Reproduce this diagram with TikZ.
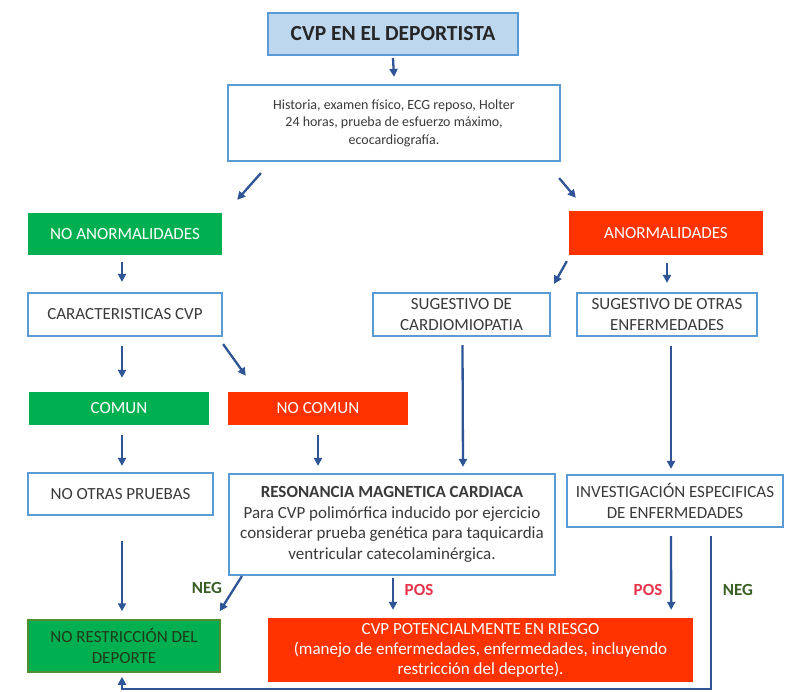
\documentclass[tikz,border=0pt]{standalone}
\usepackage{fontspec}
\setmainfont{Carlito}
\usetikzlibrary{arrows.meta}
\definecolor{bbord}{HTML}{5B9BD5}
\definecolor{tfill}{HTML}{BDD7EE}
\definecolor{gfill}{HTML}{00B050}
\definecolor{gbord}{HTML}{4E8F35}
\definecolor{rfill}{HTML}{FF3300}
\definecolor{arr}{HTML}{2F5597}
\definecolor{txt}{HTML}{3A3A3A}
\definecolor{negc}{HTML}{3A5F25}
\definecolor{posc}{HTML}{E8334A}
\definecolor{dgreen}{HTML}{1F3A1A}
\begin{document}
\begin{tikzpicture}[x=1pt,y=-1pt,
  box/.style={draw=bbord, line width=2.2pt, fill=white, text=txt, align=center, inner sep=0pt,
    font=\fontsize{17}{21}\selectfont},
  gbox/.style={fill=gfill, text=white, align=center, inner sep=0pt, font=\fontsize{17}{21}\selectfont},
  rbox/.style={fill=rfill, text=white, align=center, inner sep=0pt, font=\fontsize{17}{21}\selectfont},
  conn/.style={draw=arr, line width=2.3pt, -{Triangle[length=8pt,width=8pt]}},
  neglab/.style={text=negc, font=\fontsize{17}{19}\selectfont\bfseries},
  poslab/.style={text=posc, font=\fontsize{17}{19}\selectfont\bfseries}]
\useasboundingbox[fill=white] (0,0) rectangle (787,692);

\node[box, fill=tfill, minimum width=250, minimum height=42, text=black!85,
  font=\fontsize{21.5}{23}\selectfont\bfseries] (title) at (393,34) {CVP EN EL DEPORTISTA};
\node[box, minimum width=332, minimum height=76, font=\fontsize{14}{17.5}\selectfont] (hist) at (394,123)
  {Historia, examen físico, ECG reposo, Holter\\24 horas, prueba de esfuerzo máximo,\\ecocardiografía.};
\node[gbox, minimum width=194, minimum height=42] (noanorm) at (125,234) {NO ANORMALIDADES};
\node[rbox, minimum width=194, minimum height=44] (anorm) at (666,233) {ANORMALIDADES};
\node[box, minimum width=194, minimum height=43] (caract) at (125,314.5) {CARACTERISTICAS CVP};
\node[box, minimum width=177, minimum height=43] (sugcard) at (461.5,314.5) {SUGESTIVO DE\\CARDIOMIOPATIA};
\node[box, minimum width=180, minimum height=43] (sugotr) at (667,314.5) {SUGESTIVO DE OTRAS\\ENFERMEDADES};
\node[gbox, minimum width=180, minimum height=33] (comun) at (119,408.5) {COMUN};
\node[rbox, minimum width=180, minimum height=33] (nocomun) at (318,408.5) {NO COMUN};
\node[box, minimum width=185, minimum height=42] (nootras) at (120.5,494) {NO OTRAS PRUEBAS};
\node[box, minimum width=326, minimum height=101, font=\fontsize{17}{20.7}\selectfont] (reson) at (392,524.5)
  {\textbf{RESONANCIA MAGNETICA CARDIACA}\\Para CVP polimórfica inducido por ejercicio\\considerar prueba genética para taquicardia\\ventricular catecolaminérgica.};
\node[box, minimum width=216, minimum height=52] (invest) at (675,501) {INVESTIGACIÓN ESPECIFICAS\\DE ENFERMEDADES};
\node[fill=gfill, draw=gbord, line width=1.5pt, text=dgreen, align=center, inner sep=0pt,
  font=\fontsize{17}{21}\selectfont, minimum width=192, minimum height=52] (norestr) at (124,646)
  {NO RESTRICCIÓN DEL\\DEPORTE};
\node[rbox, minimum width=425, minimum height=64, font=\fontsize{17}{20}\selectfont] (cvpries) at (480.5,650)
  {CVP POTENCIALMENTE EN RIESGO\\(manejo de enfermedades, enfermedades, incluyendo\\restricción del deporte).};

% connectors
\draw[conn] ([yshift=-2pt]title.south) -- ([yshift=7pt]hist.north);
\draw[conn] ([xshift=34pt,yshift=-11pt]hist.south west) -- ([xshift=15pt,yshift=13pt]noanorm.north east);
\draw[conn] ([xshift=-2pt,yshift=-16pt]hist.south east) -- ([xshift=7pt,yshift=13pt]anorm.north west);
\draw[conn] ([xshift=-3pt,yshift=-7pt]noanorm.south) -- ([xshift=-3pt,yshift=10pt]caract.north);
\draw[conn] ([xshift=-2pt,yshift=-6pt]anorm.south west) -- ([xshift=3pt,yshift=8pt]sugcard.north east);
\draw[conn] ([xshift=1pt,yshift=-8pt]anorm.south) -- ([yshift=9pt]sugotr.north);
\draw[conn] ([xshift=-3pt,yshift=-9pt]caract.south) -- ([xshift=3pt,yshift=14pt]comun.north);
\draw[conn] ([yshift=-7pt]caract.south east) -- ([xshift=18pt,yshift=16pt]nocomun.north west);
\draw[conn] ([xshift=1pt,yshift=-8pt]sugcard.south) -- ([xshift=71pt,yshift=6pt]reson.north);
\draw[conn] ([xshift=4pt,yshift=-9pt]sugotr.south) -- ([xshift=-4pt,yshift=5pt]invest.north);
\draw[conn] ([xshift=3pt,yshift=-10pt]comun.south) -- ([xshift=1.5pt,yshift=6pt]nootras.north);
\draw[conn] ([yshift=-10pt]nocomun.south) -- ([xshift=-74pt,yshift=7pt]reson.north);
\draw[conn] ([xshift=1.5pt,yshift=-25pt]nootras.south) -- ([xshift=-2pt,yshift=8pt]norestr.north);
\draw[conn] ([xshift=14pt]reson.south west) -- ([xshift=-1pt,yshift=8pt]norestr.north east);
\draw[conn] ([xshift=1pt,yshift=-2pt]reson.south) -- ([xshift=-87.5pt,yshift=8pt]cvpries.north);
\draw[conn] ([xshift=-4pt,yshift=-8pt]invest.south) -- ([xshift=-22pt,yshift=8pt]cvpries.north east);
\draw[conn] ([xshift=36pt,yshift=-8pt]invest.south) -- ++(0,153) -| ([xshift=-2pt,yshift=-4pt]norestr.south);

% labels
\node[neglab] (neg1) at (207,588) {NEG};
\node[poslab] (pos1) at (419,590) {POS};
\node[poslab] (pos2) at (648,590) {POS};
\node[neglab] (neg2) at (738,590) {NEG};
\end{tikzpicture}
\end{document}
